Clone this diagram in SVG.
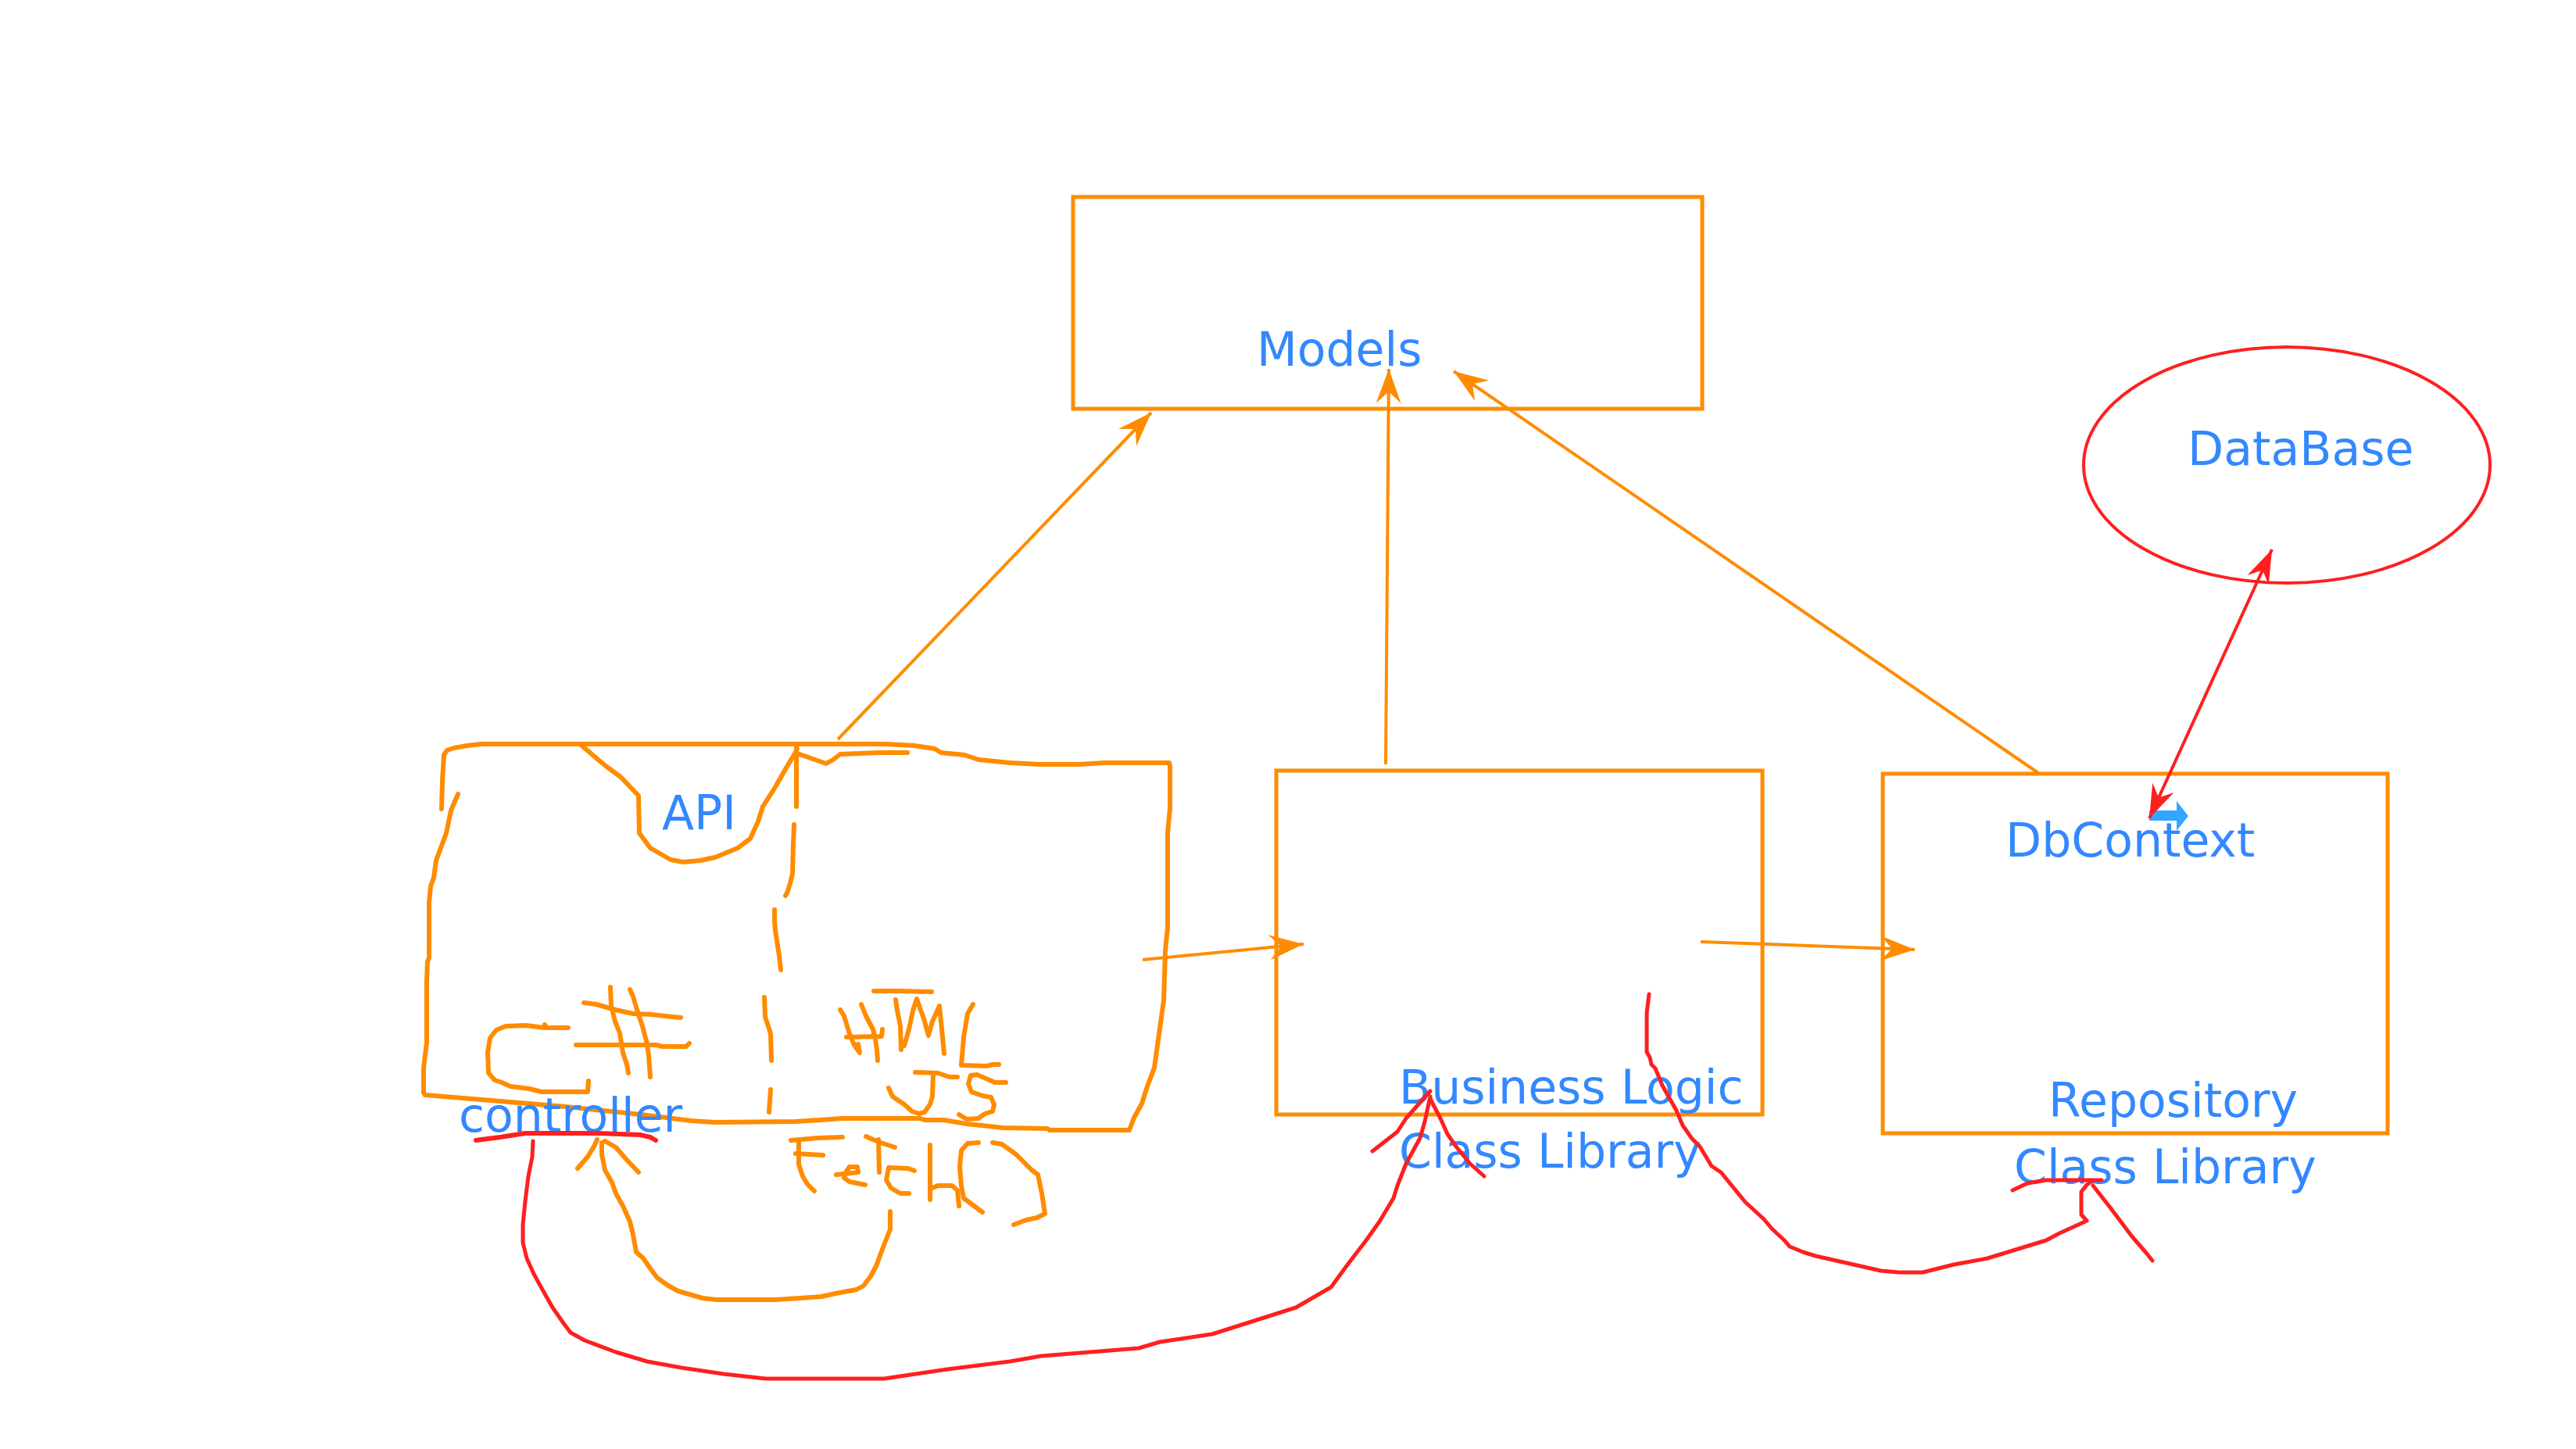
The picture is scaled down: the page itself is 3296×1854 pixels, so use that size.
<svg xmlns="http://www.w3.org/2000/svg" width="3296" height="1854" viewBox="0 0 3296 1854">
<style>
.lbl{font-family:"DejaVu Sans","Liberation Sans",sans-serif;font-size:60px;fill:#3388ff}
.box{fill:none;stroke:#ff8c00;stroke-width:5}
.ink{fill:none;stroke:#ff8c00;stroke-width:6;stroke-linecap:round;stroke-linejoin:round}
.conn{fill:none;stroke:#ff8c00;stroke-width:4}
.red{fill:none;stroke:#ff1f1f;stroke-width:5;stroke-linecap:round;stroke-linejoin:round}
.redthick{fill:none;stroke:#ff1f1f;stroke-width:6;stroke-linecap:round;stroke-linejoin:round}
</style>
<defs>
<marker id="ahO" markerUnits="userSpaceOnUse" viewBox="-50 -20 56 40" markerWidth="56" markerHeight="40" refX="0" refY="0" orient="auto">
<path d="M0,0 L-44,-16 L-29,0 L-44,16 Z" fill="#ff8c00"/>
</marker>
<marker id="ahR" markerUnits="userSpaceOnUse" viewBox="-50 -20 56 40" markerWidth="56" markerHeight="40" refX="0" refY="0" orient="auto-start-reverse">
<path d="M0,0 L-43,-15 L-29,0 L-43,15 Z" fill="#ff1f1f"/>
</marker>
</defs>
<rect width="3296" height="1854" fill="#ffffff"/>

<g id="models">
<rect class="box" x="1373" y="252" width="805" height="271"/>
<text class="lbl" x="1608" y="468">Models</text>
</g>

<g id="database">
<ellipse cx="2926" cy="595" rx="260" ry="151" fill="none" stroke="#ff1f1f" stroke-width="4"/>
<text class="lbl" x="2799" y="595">DataBase</text>
</g>

<g id="business-logic">
<rect class="box" x="1633" y="986" width="622" height="440"/>
<text class="lbl" x="1790" y="1412">Business Logic</text>
<text class="lbl" x="1790" y="1494">Class Library</text>
</g>

<g id="repository">
<rect class="box" x="2409" y="990" width="646" height="460"/>
<text class="lbl" x="2566" y="1096">DbContext</text>
<path d="M2750,1037 L2785,1037 L2785,1025 L2800,1044 L2785,1063 L2785,1050 L2750,1050 Z" fill="#33a6ff"/>
<text class="lbl" x="2621" y="1429">Repository</text>
<text class="lbl" x="2577" y="1514">Class Library</text>
</g>

<g id="api">
<polyline class="ink" points="565,1035 566,1000 568,966 572,960 581,957 598,954 616,952 1132,952 1170,954 1196,958 1204,963 1234,966 1252,972 1292,976 1330,978 1381,978 1413,976 1496,976 1497,980 1497,1034 1494,1066 1494,1187 1491,1216 1489,1280 1484,1316 1477,1366 1468,1390 1461,1412 1451,1430 1445,1446 1343,1446 1340,1444 1283,1443 1237,1438 1207,1433 1183,1433 1177,1431 1077,1431 1050,1433 1017,1435 915,1436 884,1434 820,1426 724,1416 616,1407 544,1401 542,1398"/>
<polyline class="ink" points="542,1398 542,1366 546,1334 546,1255 547,1230 549,1226 549,1155 551,1134 555,1123 558,1101 571,1066 577,1037 586,1016"/>
<polyline class="ink" points="743,953 756,964 775,980 794,994 817,1018 818,1066 832,1085 858,1100 874,1103 896,1101 915,1097 944,1085 960,1073 970,1051 976,1032 992,1007 1005,984 1017,964 1020,958"/>
<polyline class="ink" points="1020,964 1037,970 1057,977 1066,972 1075,965 1100,964 1126,963 1161,963"/>
<polyline class="ink" points="1019,956 1019,1032"/>
<polyline class="ink" points="1016,1055 1015,1080 1014,1118 1011,1130 1008,1140 1005,1146"/>
<polyline class="ink" points="991,1164 991,1178 992,1191 994,1203 995,1210 997,1223 999,1241"/>
<polyline class="ink" points="978,1276 979,1301 983,1313 986,1323 987,1357"/>
<polyline class="ink" points="986,1394 984,1423"/>
<text class="lbl" x="847" y="1061">API</text>
<g id="ink-csharp">
<polyline class="ink" points="727,1315 700,1315 697,1311 697,1315 673,1312 647,1313 635,1318 627,1328 624,1347 625,1373 633,1382 642,1385 653,1390 677,1393 693,1397 752,1397 753,1383"/>
<polyline class="ink" points="781,1263 782,1287 787,1307 793,1322 797,1347 802,1362 804,1373"/>
<polyline class="ink" points="806,1266 810,1275 815,1292 822,1313 827,1332 830,1350 832,1378"/>
<polyline class="ink" points="747,1283 763,1285 787,1292 810,1297 833,1298 860,1301 871,1302"/>
<polyline class="ink" points="737,1337 840,1337 847,1339 878,1339 882,1335"/>
</g>
<g id="ink-html-js">
<polyline class="ink" points="1075,1292 1080,1300 1087,1323 1093,1337 1100,1347 1098,1336"/>
<polyline class="ink" points="1102,1285 1108,1300 1117,1317 1120,1330 1122,1343 1123,1357"/>
<polyline class="ink" points="1083,1327 1128,1326 1129,1317"/>
<polyline class="ink" points="1118,1268 1150,1268 1192,1269"/>
<polyline class="ink" points="1146,1279 1148,1293 1152,1313 1153,1343"/>
<polyline class="ink" points="1157,1338 1163,1317 1168,1293 1173,1278 1177,1290 1182,1303 1188,1325 1193,1307 1202,1287 1205,1317 1208,1348"/>
<polyline class="ink" points="1245,1285 1238,1297 1233,1327 1230,1363 1263,1364 1270,1362 1278,1362"/>
<polyline class="ink" points="1171,1372 1200,1373 1215,1378 1225,1378"/>
<polyline class="ink" points="1194,1375 1193,1403 1190,1413 1183,1423 1176,1425 1167,1422 1157,1413 1142,1403 1137,1392"/>
<polyline class="ink" points="1287,1385 1273,1385 1257,1378 1250,1375 1242,1376 1239,1387 1243,1397 1257,1402 1268,1404 1272,1413 1270,1422 1260,1425 1252,1431 1237,1432 1227,1426"/>
</g>
<text class="lbl" x="587" y="1448">controller</text>
</g>

<g id="ink-fetch">
<polyline class="ink" points="1012,1459 1047,1456 1078,1455"/>
<polyline class="ink" points="1022,1461 1022,1490 1027,1505 1033,1515 1042,1524"/>
<polyline class="ink" points="1018,1476 1053,1478"/>
<polyline class="ink" points="1070,1503 1098,1500 1097,1493 1087,1493 1082,1500 1080,1507 1087,1512 1097,1514 1107,1516"/>
<polyline class="ink" points="1108,1454 1117,1458 1127,1462 1145,1468"/>
<polyline class="ink" points="1124,1458 1125,1500"/>
<polyline class="ink" points="1170,1498 1162,1495 1137,1494 1134,1510 1140,1520 1152,1527 1163,1527"/>
<polyline class="ink" points="1190,1465 1190,1535"/>
<polyline class="ink" points="1193,1520 1200,1517 1218,1517 1225,1523 1227,1543"/>
<polyline class="ink" points="1252,1462 1238,1463 1230,1472 1228,1493 1230,1517 1233,1533 1245,1542 1257,1551"/>
<polyline class="ink" points="1270,1462 1282,1464 1300,1477 1320,1497 1328,1503 1333,1527 1337,1553 1327,1558 1313,1561 1297,1567"/>
</g>

<g id="connectors">
<line class="conn" x1="1072" y1="946" x2="1473" y2="528" marker-end="url(#ahO)"/>
<line class="conn" x1="1773" y1="978" x2="1777" y2="472" marker-end="url(#ahO)"/>
<line class="conn" x1="2608" y1="989" x2="1860" y2="475" marker-end="url(#ahO)"/>
<line class="conn" x1="1462" y1="1228" x2="1668" y2="1208" marker-end="url(#ahO)"/>
<line class="conn" x1="2176" y1="1205" x2="2450" y2="1215" marker-end="url(#ahO)"/>
<line x1="2750" y1="1047" x2="2907" y2="703" fill="none" stroke="#ff1f1f" stroke-width="4" marker-start="url(#ahR)" marker-end="url(#ahR)"/>
<polyline class="redthick" points="609,1459 640,1455 672,1450 765,1450 819,1452 832,1455 839,1459"/>
<polyline class="red" points="682,1460 681,1480 676,1505 672,1537 669,1567 669,1590 674,1610 683,1630 694,1650 707,1673 721,1693 730,1705 748,1715 788,1730 828,1742 872,1750 926,1758 980,1764 1131,1764 1212,1752 1292,1742 1332,1735 1457,1725 1484,1717 1551,1707 1658,1673 1703,1647 1725,1617 1748,1587 1765,1563 1783,1533 1788,1517 1799,1489 1817,1456 1823,1435 1830,1403"/>
<polyline class="red" points="1756,1473 1788,1448 1799,1431 1821,1406 1830,1396"/>
<polyline class="red" points="1830,1406 1843,1431 1852,1451 1863,1467 1881,1489 1899,1505"/>
<polyline class="red" points="2110,1272 2107,1296 2107,1346 2111,1353 2113,1362 2118,1367 2127,1389 2145,1421 2153,1440 2165,1457 2175,1467 2190,1492 2202,1500 2233,1538 2257,1560 2267,1572 2283,1587 2290,1595 2307,1602 2323,1607 2407,1626 2430,1628 2460,1628 2500,1618 2543,1610 2618,1587 2635,1578 2670,1562 2663,1554 2663,1525 2670,1516 2677,1511"/>
<polyline class="red" points="2575,1523 2594,1514 2618,1510 2689,1510"/>
<polyline class="red" points="2678,1517 2700,1545 2727,1581 2746,1603 2754,1613"/>
<polyline class="ink" points="1139,1550 1139,1573 1131,1593 1121,1620 1114,1633 1105,1645 1096,1650 1069,1655 1051,1659 993,1663 917,1663 899,1661 868,1652 855,1645 841,1635 832,1623 823,1610 814,1602 810,1580 806,1563 797,1543 788,1527 783,1513 774,1497 770,1477 770,1462"/>
<polyline class="ink" points="739,1495 752,1480 761,1465 764,1458"/>
<polyline class="ink" points="774,1460 788,1468 801,1483 817,1500"/>
</g>
</svg>
